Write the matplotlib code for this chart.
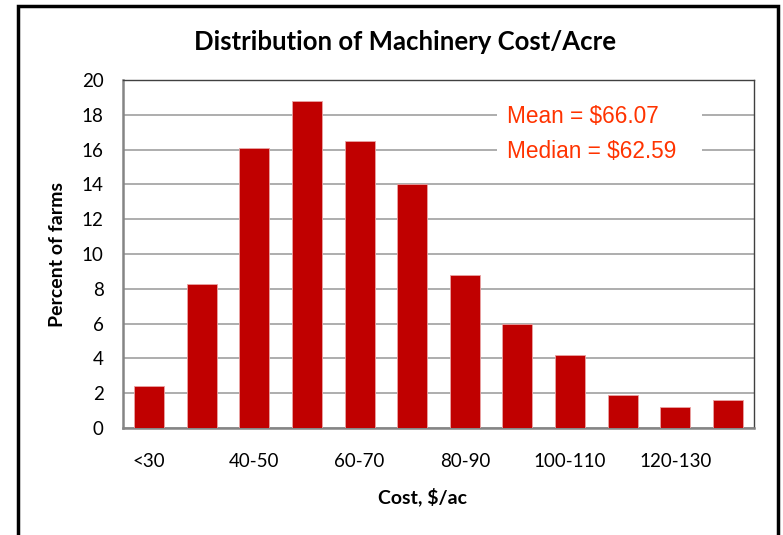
import numpy as np
import matplotlib
matplotlib.use("Agg")
import matplotlib.pyplot as plt
from matplotlib.patches import Rectangle


# ============================================================
# DATOS
# ============================================================

categories = ["<30", "30-40", "40-50", "50-60", "60-70", "70-80",
              "80-90", "90-100", "100-110", "110-120", "120-130", ">130"]
percent_farms = [2.4, 8.3, 16.1, 18.8, 16.5, 14.0, 8.8, 6.0, 4.2, 1.9, 1.2, 1.6]
y_ticks = [0, 2, 4, 6, 8, 10, 12, 14, 16, 18, 20]
stats_text = "Mean = $66.07\nMedian = $62.59"

title = "Distribution of Machinery Cost/Acre"
x_label = "Cost, $/ac"
y_label = "Percent of farms"

CAL = ["Lato", "DejaVu Sans"]
BAR_COLOR = "#C00000"


# ============================================================
# FIGURA
# ============================================================

fig = plt.figure(figsize=(7.83, 5.35), dpi=100)
ax = fig.add_axes([0.1571, 0.2, 0.806, 0.6505])

x = np.arange(len(categories))
ax.bar(x, percent_farms, width=0.57, color=BAR_COLOR,
       edgecolor="#E9A3A3", linewidth=0.6, zorder=3)

ax.set_xlim(-0.5, len(categories) - 0.5)
ax.set_ylim(0, 20)
ax.set_yticks(y_ticks)
ax.set_yticklabels([str(v) for v in y_ticks], fontfamily=CAL, fontsize=13.5)

# solo se rotula una categoria de cada dos
ax.set_xticks(x)
ax.set_xticklabels([c if i % 2 == 0 else "" for i, c in enumerate(categories)],
                   fontfamily=CAL, fontsize=13.5)
ax.tick_params(axis="y", length=0, pad=14)
ax.tick_params(axis="x", length=0, pad=18)

ax.grid(axis="y", color="#A0A0A0", linewidth=1.2, zorder=0)
ax.set_axisbelow(True)
for side in ["left", "bottom"]:
    ax.spines[side].set_color("#858585")
    ax.spines[side].set_linewidth(1.8)
for side in ["top", "right"]:
    ax.spines[side].set_color("#404040")
    ax.spines[side].set_linewidth(1.0)

# recuadro blanco detras de las estadisticas (tapa la grilla)
ax.add_patch(Rectangle((6.61, 15.1), 3.9, 3.8, facecolor="white",
                       edgecolor="none", zorder=1))
ax.text(6.8, 16.88, stats_text, ha="left", va="center", fontsize=16.3,
        fontfamily="Liberation Sans", color="#FF3300", linespacing=1.65,
        zorder=4)

fig.text(0.517, 0.9215, title, ha="center", va="center", fontsize=18.5,
         fontweight="bold", fontfamily=CAL)
fig.text(0.074, 0.525, y_label, ha="center", va="center", rotation=90,
         fontsize=14, fontweight="bold", fontfamily=CAL)
fig.text(0.539, 0.071, x_label, ha="center", va="center",
         fontsize=14, fontweight="bold", fontfamily=CAL)

# marco exterior negro
fig.patches.append(Rectangle((18 / 783, -0.1), 760 / 783, 1.1 - 6 / 535,
                             transform=fig.transFigure, fill=False,
                             edgecolor="black", linewidth=2.5))

fig.savefig("out.png", dpi=100)
